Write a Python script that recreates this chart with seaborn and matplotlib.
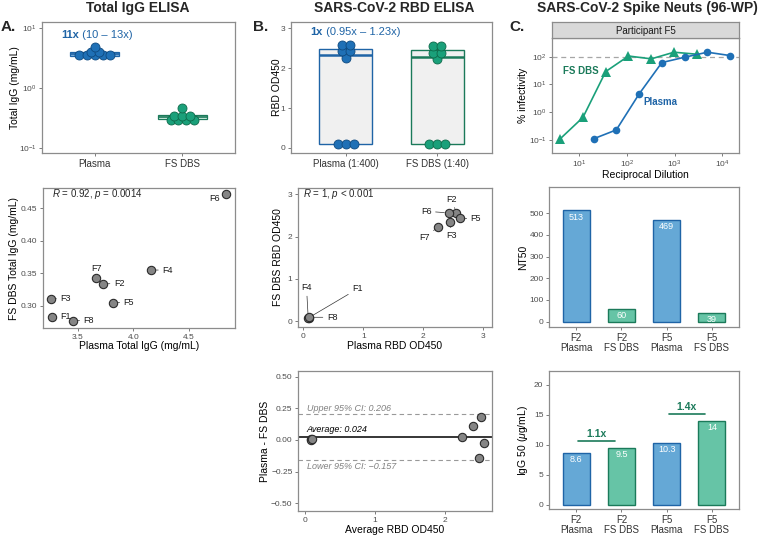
import numpy as np
import pandas as pd
import matplotlib
matplotlib.use("Agg")
import matplotlib.pyplot as plt
import matplotlib.transforms as mtransforms
from matplotlib.ticker import NullLocator, FixedLocator, LogFormatterSciNotation
import seaborn as sns

# ---------------- data ----------------
participants = ["F1", "F2", "F3", "F4", "F5", "F6", "F7", "F8"]
igg_plasma = [3.27, 3.73, 3.26, 4.16, 3.82, 4.83, 3.66, 3.46]
igg_dbs = [0.283, 0.334, 0.311, 0.355, 0.305, 0.472, 0.343, 0.277]
igg_groups = ["Plasma", "FS DBS"]
igg_cross_low = [3.41, 0.304]
igg_cross_mid = [3.72, 0.329]
igg_cross_high = [4.03, 0.355]
igg_ratio_text = ("11x", "(10 \u2013 13x)")
igg_r_text = r"$R$ = 0.92, $p$ = 0.0014"

rbd_plasma = [0.09, 2.55, 2.45, 0.08, 2.61, 2.42, 2.25, 0.10]
rbd_dbs = [0.08, 2.57, 2.34, 0.08, 2.43, 2.56, 2.23, 0.09]
rbd_groups = ["Plasma (1:400)", "FS DBS (1:40)"]
rbd_ratio_text = ("1x", "(0.95x \u2013 1.23x)")
rbd_r_text = r"$R$ = 1, $p$ < 0.001"
ba_mean, ba_upper, ba_lower = 0.024, 0.206, -0.157

plasma_dilution = [20, 60, 180, 540, 1620, 4860, 14580]
plasma_infectivity = [0.11, 0.23, 4.5, 61, 95, 144, 109]
dbs_dilution = [4, 12, 36, 108, 324, 972, 2916]
dbs_infectivity = [0.11, 0.65, 29, 105, 83, 144, 122]

bar_labels = ["F2\nPlasma", "F2\nFS DBS", "F5\nPlasma", "F5\nFS DBS"]
nt50 = [513, 60, 469, 39]
igg50 = [8.6, 9.5, 10.3, 14]
fold_labels = ["1.1x", "1.4x"]

# ---------------- style ----------------
sns.set_theme(style="white")
plt.rcParams["font.family"] = ["Liberation Sans", "DejaVu Sans"]
plt.rcParams["mathtext.fontset"] = "custom"
plt.rcParams["mathtext.rm"] = "Liberation Sans"
plt.rcParams["mathtext.it"] = "Liberation Sans:italic"
plt.rcParams["mathtext.bf"] = "Liberation Sans:bold"

BLUE_DOT, BLUE_DARK, BLUE_EDGE = "#1f70b6", "#1f64a6", "#0f4a80"
GREEN_DOT, GREEN_DARK, GREEN_EDGE = "#1aa07a", "#1b7a5a", "#0e6a4a"
BLUE_BAR, GREEN_BAR = "#65a8d6", "#66c4a6"
GREY_PT, GREY_EDGE = "#858585", "#2b2b2b"
SPINE, TICKC = "#8c8c8c", "#4d4d4d"

W, H = 760, 535
fig = plt.figure(figsize=(7.6, 5.35), dpi=100)


def add_ax(l, t, r, b):
    return fig.add_axes([l / W, 1 - b / H, (r - l) / W, (b - t) / H])


def style(ax):
    ax.set_facecolor("white")
    for s in ax.spines.values():
        s.set_visible(True)
        s.set_color(SPINE)
        s.set_linewidth(0.9)
    ax.tick_params(axis="both", which="major", length=2.5, width=0.6, color="#666666",
                   labelsize=6, labelcolor=TICKC, pad=1.5, left=True, bottom=True)
    ax.tick_params(which="minor", length=0)
    ax.grid(False)


def ylab(ax, text, x_px, size=7.5):
    ax.set_ylabel(text, fontsize=size, color="black")
    bb = ax.get_position()
    ax.yaxis.set_label_coords((x_px - bb.x0 * W) / (bb.width * W), 0.5)


def xlab(ax, text, y_px, size=7.5):
    ax.set_xlabel(text, fontsize=size, color="black")
    bb = ax.get_position()
    top = (1 - bb.y1) * H
    ax.xaxis.set_label_coords(0.5, 1 - (y_px - top) / (bb.height * H))


def dotdensity(values, binwidth, log=False):
    v = np.log10(values) if log else np.asarray(values, float)
    vs = np.sort(v)
    centers, offsets = [], []
    i = 0
    while i < len(vs):
        j = i
        while j + 1 < len(vs) and vs[j + 1] < vs[i] + binwidth:
            j += 1
        b = vs[i:j + 1]
        c = (b.min() + b.max()) / 2
        n = len(b)
        for k in range(n):
            centers.append(c)
            offsets.append(k - (n - 1) / 2)
        i = j + 1
    centers = np.array(centers)
    if log:
        centers = 10 ** centers
    return centers, np.array(offsets)


def label_points(ax, xs, ys, names, spec):
    for x, y, nm in zip(xs, ys, names):
        dx, dy, ha, line = spec[nm]
        ax.annotate(nm, xy=(x, y), xytext=(dx, dy), textcoords="offset points",
                    ha=ha, va="center", fontsize=6.5, color="#1a1a1a", zorder=5,
                    arrowprops=(dict(arrowstyle="-", color="#333333", lw=0.5,
                                     shrinkA=0.5, shrinkB=3) if line else None))


dark = [BLUE_DARK, GREEN_DARK]
dots = [BLUE_DOT, GREEN_DOT]
dot_edges = [BLUE_EDGE, GREEN_EDGE]

# ---------------- A top ----------------
axA1 = add_ax(42, 22, 235, 153)
axA1.set_yscale("log")
cross_fill = ["#7fb1dc", "#d3eee3"]
for i in range(2):
    axA1.bar(i, igg_cross_high[i] - igg_cross_low[i], bottom=igg_cross_low[i], width=0.56,
             color=cross_fill[i], edgecolor=dark[i], linewidth=0.9, zorder=2)
    axA1.hlines(igg_cross_mid[i], i - 0.28, i + 0.28, color=dark[i], lw=1.2, zorder=2)
    yc, off = dotdensity([igg_plasma, igg_dbs][i], 0.06, log=True)
    sns.scatterplot(x=i + off * 0.09, y=yc, ax=axA1, s=42, color=dots[i],
                    edgecolor=dot_edges[i], linewidth=0.6, zorder=3, legend=False)
style(axA1)
axA1.set_xlim(-0.6, 1.6)
axA1.set_ylim(10 ** -1.083, 10 ** 1.1)
axA1.yaxis.set_major_locator(FixedLocator([0.1, 1, 10]))
axA1.yaxis.set_major_formatter(LogFormatterSciNotation())
axA1.yaxis.set_minor_locator(NullLocator())
axA1.set_xticks([0, 1])
axA1.set_xticklabels(igg_groups, fontsize=7, color="#333333")
ylab(axA1, "Total IgG (mg/mL)", 19.5)
axA1.set_xlabel("")
trA = mtransforms.blended_transform_factory(axA1.transData, axA1.transAxes)
tA = axA1.text(-0.38, 0.90, igg_ratio_text[0], transform=trA, color=BLUE_DARK,
               fontsize=8, fontweight="bold", ha="left", va="center")
axA1.annotate(" " + igg_ratio_text[1], xycoords=tA, xy=(1, 0.5), ha="left", va="center",
              color=BLUE_DARK, fontsize=8)

# ---------------- A bottom ----------------
axA2 = add_ax(43, 188, 235, 328)
sns.scatterplot(x=igg_plasma, y=igg_dbs, ax=axA2, s=36, color=GREY_PT, edgecolor=GREY_EDGE,
                linewidth=0.8, zorder=3, legend=False)
specA = {"F1": (5.5, 0.5, "left", False), "F2": (7.6, 0, "left", True),
         "F3": (6.7, 0, "left", True), "F4": (8, 0, "left", True),
         "F5": (7.4, 0, "left", True), "F6": (-8, -3, "center", False),
         "F7": (0.5, 6.5, "center", False), "F8": (7.4, 0.5, "left", True)}
label_points(axA2, igg_plasma, igg_dbs, participants, specA)
style(axA2)
axA2.set_xlim(3.188, 4.914)
axA2.set_ylim(0.266, 0.481)
axA2.set_xticks([3.5, 4.0, 4.5])
axA2.set_xticklabels(["3.5", "4.0", "4.5"])
axA2.set_yticks([0.30, 0.35, 0.40, 0.45])
axA2.set_yticklabels(["0.30", "0.35", "0.40", "0.45"])
axA2.text(0.047, 0.957, igg_r_text, transform=axA2.transAxes, fontsize=7, va="center", ha="left")
ylab(axA2, "FS DBS Total IgG (mg/mL)", 19.5)
xlab(axA2, "Plasma Total IgG (mg/mL)", 341)

# ---------------- B top ----------------
axB1 = add_ax(291, 22, 492, 153)
df_rbd = pd.DataFrame({"group": [rbd_groups[0]] * len(rbd_plasma) + [rbd_groups[1]] * len(rbd_dbs),
                       "od": rbd_plasma + rbd_dbs})
for i, g in enumerate(rbd_groups):
    sub = df_rbd[df_rbd["group"] == g]
    sns.boxplot(data=sub, x="group", y="od", order=rbd_groups, color="#f0f0f0", linecolor=dark[i],
                linewidth=1.0, width=0.58, whis=(0, 100), showfliers=False, showcaps=False,
                medianprops=dict(linewidth=1.8), saturation=1, ax=axB1)
for i in range(2):
    yc, off = dotdensity([rbd_plasma, rbd_dbs][i], 0.1)
    sns.scatterplot(x=i + off * 0.085, y=yc, ax=axB1, s=42, color=dots[i],
                    edgecolor=dot_edges[i], linewidth=0.6, zorder=3, legend=False)
style(axB1)
axB1.set_xlim(-0.6, 1.6)
axB1.set_ylim(-0.13, 3.16)
axB1.set_yticks([0, 1, 2, 3])
axB1.set_xticks([0, 1])
axB1.set_xticklabels(rbd_groups, fontsize=7, color="#333333")
axB1.set_xlabel("")
ylab(axB1, "RBD OD450", 282)
trB = mtransforms.blended_transform_factory(axB1.transData, axB1.transAxes)
tB = axB1.text(-0.39, 0.924, rbd_ratio_text[0], transform=trB, color=BLUE_DARK,
               fontsize=8, fontweight="bold", ha="left", va="center")
axB1.annotate(" " + rbd_ratio_text[1], xycoords=tB, xy=(1, 0.5), ha="left", va="center",
              color=BLUE_DARK, fontsize=8)

# ---------------- B middle ----------------
axB2 = add_ax(298, 188, 492, 327)
sns.scatterplot(x=rbd_plasma, y=rbd_dbs, ax=axB2, s=36, color=GREY_PT, edgecolor=GREY_EDGE,
                linewidth=0.8, zorder=3, legend=False)
specB = {"F1": (35, 20.7, "center", True), "F2": (-3.6, 9.6, "center", True),
         "F3": (0.7, -9.9, "center", True), "F4": (-1.2, 21.6, "center", True),
         "F5": (11.5, 0, "center", True), "F6": (-16, 1.2, "center", True),
         "F7": (-10, -7.6, "center", True), "F8": (16.3, 0, "center", True)}
label_points(axB2, rbd_plasma, rbd_dbs, participants, specB)
style(axB2)
axB2.set_xlim(-0.09, 3.145)
axB2.set_ylim(-0.14, 3.15)
axB2.set_xticks([0, 1, 2, 3])
axB2.set_yticks([0, 1, 2, 3])
axB2.text(0.027, 0.957, rbd_r_text, transform=axB2.transAxes, fontsize=7, va="center", ha="left")
ylab(axB2, "FS DBS RBD OD450", 283)
xlab(axB2, "Plasma RBD OD450", 341)

# ---------------- B bottom (Bland-Altman) ----------------
axB3 = add_ax(298, 371, 492, 511)
ba_avg = (np.array(rbd_plasma) + np.array(rbd_dbs)) / 2
ba_diff = np.array(rbd_plasma) - np.array(rbd_dbs)
axB3.axhline(ba_upper, color="#999999", lw=0.8, ls=(0, (4, 3)), zorder=1)
axB3.axhline(ba_lower, color="#999999", lw=0.8, ls=(0, (4, 3)), zorder=1)
axB3.axhline(ba_mean, color="black", lw=1.1, zorder=2)
sns.scatterplot(x=ba_avg, y=ba_diff, ax=axB3, s=36, color=GREY_PT, edgecolor=GREY_EDGE,
                linewidth=0.8, zorder=3, legend=False)
style(axB3)
axB3.set_xlim(-0.1, 2.67)
axB3.set_ylim(-0.561, 0.545)
axB3.set_xticks([0, 1, 2])
axB3.set_yticks([-0.5, -0.25, 0, 0.25, 0.5])
axB3.set_yticklabels(["\u22120.50", "\u22120.25", "0.00", "0.25", "0.50"])
axB3.text(0.024, 0.25, f"Upper 95% CI: {ba_upper}", fontsize=6.5, style="italic",
          color="#808080", va="center", ha="left")
axB3.text(0.024, 0.08, f"Average: {ba_mean}", fontsize=6.5, style="italic",
          color="black", va="center", ha="left")
axB3.text(0.024, -0.2125, f"Lower 95% CI: \u2212{abs(ba_lower)}", fontsize=6.5, style="italic",
          color="#808080", va="center", ha="left")
ylab(axB3, "Plasma - FS DBS", 270)
xlab(axB3, "Average RBD OD450", 525)

# ---------------- C top (neutralization curve) ----------------
axC1 = add_ax(552, 38, 739, 153)
axC1.set_xscale("log")
axC1.set_yscale("log")
axC1.axhline(100, color="#a6a6a6", lw=0.9, ls=(0, (4, 3)), zorder=1)
sns.lineplot(x=dbs_dilution, y=dbs_infectivity, ax=axC1, color=GREEN_DOT, marker="^",
             markersize=7, markeredgewidth=0, lw=1.2, zorder=3)
sns.lineplot(x=plasma_dilution, y=plasma_infectivity, ax=axC1, color=BLUE_DOT, marker="o",
             markersize=5.5, markeredgewidth=0, lw=1.2, zorder=3)
style(axC1)
axC1.set_xlim(10 ** 0.43, 10 ** 4.35)
axC1.set_ylim(10 ** -1.47, 10 ** 2.67)
axC1.xaxis.set_major_locator(FixedLocator([10, 100, 1000, 10000]))
axC1.yaxis.set_major_locator(FixedLocator([0.1, 1, 10, 100]))
axC1.xaxis.set_major_formatter(LogFormatterSciNotation())
axC1.yaxis.set_major_formatter(LogFormatterSciNotation())
axC1.xaxis.set_minor_locator(NullLocator())
axC1.yaxis.set_minor_locator(NullLocator())
axC1.text(25.4, 31.6, "FS DBS", color=GREEN_DARK, fontsize=7, fontweight="bold", ha="right", va="center")
axC1.text(223, 2.4, "Plasma", color=BLUE_DARK, fontsize=7, fontweight="bold", ha="left", va="center")
ylab(axC1, "% infectivity", 528.5)
xlab(axC1, "Reciprocal Dilution", 170)

axS = add_ax(552, 22, 739, 38)
axS.set_facecolor("#d9d9d9")
for s in axS.spines.values():
    s.set_color(SPINE)
    s.set_linewidth(0.9)
axS.set_xticks([])
axS.set_yticks([])
axS.text(0.5, 0.45, "Participant F5", transform=axS.transAxes, ha="center", va="center",
         fontsize=7, color="#1a1a1a")

# ---------------- C middle (NT50 bars) ----------------
bar_fills = [BLUE_BAR, GREEN_BAR, BLUE_BAR, GREEN_BAR]
bar_edges = [BLUE_DARK, GREEN_DARK, BLUE_DARK, GREEN_DARK]


def bars(ax, values):
    sns.barplot(x=bar_labels, y=values, hue=bar_labels, palette=bar_fills, legend=False,
                width=0.6, saturation=1, errorbar=None, linewidth=1.0, edgecolor="k", ax=ax)
    for p, ec in zip(ax.patches, bar_edges):
        p.set_edgecolor(ec)
    for c in ax.containers:
        ax.bar_label(c, fmt="{:g}", padding=-8, color="white", fontsize=6.5)
    style(ax)
    ax.set_xlim(-0.6, 3.6)
    ax.set_xticks(range(4))
    ax.set_xticklabels(bar_labels, fontsize=7, color="#333333", linespacing=1.0)


axC2 = add_ax(549, 187, 739, 327)
bars(axC2, nt50)
axC2.set_ylim(-24.5, 621)
axC2.set_yticks([0, 100, 200, 300, 400, 500])
ylab(axC2, "NT50", 528.5)

axC3 = add_ax(549, 371, 739, 509)
bars(axC3, igg50)
axC3.set_ylim(-0.67, 22.3)
axC3.set_yticks([0, 5, 10, 15, 20])
for k, lab in enumerate(fold_labels):
    i = 2 * k
    ytop = max(igg50[i], igg50[i + 1]) + 1.1
    axC3.plot([i + 0.05, i + 0.85], [ytop, ytop], color=GREEN_DARK, lw=1.2)
    axC3.text(i + 0.45, ytop + 0.45, lab, ha="center", va="bottom", color=GREEN_DARK,
              fontsize=7.5, fontweight="bold")
ylab(axC3, r"IgG 50 ($\mu$g/mL)", 529.5)

# ---------------- titles and panel letters ----------------
fig.text(138 / W, 1 - 12 / H, "Total IgG ELISA", fontsize=10, fontweight="bold", ha="center", va="baseline")
fig.text(394 / W, 1 - 12 / H, "SARS-CoV-2 RBD ELISA", fontsize=10, fontweight="bold", ha="center", va="baseline")
fig.text(647 / W, 1 - 12 / H, "SARS-CoV-2 Spike Neuts (96-WP)", fontsize=10, fontweight="bold", ha="center", va="baseline")
fig.text(1 / W, 1 - 31 / H, "A.", fontsize=11, fontweight="bold", ha="left", va="baseline")
fig.text(253 / W, 1 - 31 / H, "B.", fontsize=11, fontweight="bold", ha="left", va="baseline")
fig.text(509 / W, 1 - 31 / H, "C.", fontsize=11, fontweight="bold", ha="left", va="baseline")

fig.savefig("out.png", dpi=100, facecolor="white")
